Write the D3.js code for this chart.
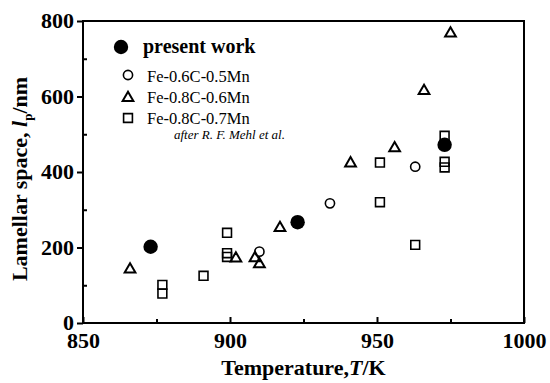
<!DOCTYPE html>
<html>
<head>
<meta charset="utf-8">
<script src="https://cdn.jsdelivr.net/npm/d3@7"></script>
<style>
  body { margin: 0; background: #fff; }
  svg { display: block; }
  text { font-family: "Liberation Serif", "Times New Roman", serif; fill: #000; }
</style>
</head>
<body>
<div id="chart"></div>
<script>
// temperatures (K) and lamellar spacing (nm)
var presentT = [873, 923, 973];
var presentL = [202, 267, 472];

var mn05T = [910, 934, 963];
var mn05L = [189, 317, 414];

var mn06T = [866, 902, 908.5, 910, 917, 941, 956, 966, 975];
var mn06L = [142, 171, 172, 156, 252, 423, 463, 615, 767];

var mn07T = [877, 877, 891, 899, 899, 899, 951, 951, 963, 973, 973, 973];
var mn07L = [101, 78, 125, 239, 185, 175, 425, 320, 207, 496, 427, 412];

var xTicks = [850, 900, 950, 1000];
var yTicks = [0, 200, 400, 600, 800];

var legendLabels = ["present work", "Fe-0.6C-0.5Mn", "Fe-0.8C-0.6Mn", "Fe-0.8C-0.7Mn"];

var margin = {top: 21, right: 26, bottom: 60, left: 83},
    width = 550 - margin.left - margin.right,
    height = 383 - margin.top - margin.bottom;

var svg = d3.select("#chart").append("svg")
    .attr("width", 550)
    .attr("height", 383);

var g = svg.append("g")
    .attr("transform", "translate(" + margin.left + "," + margin.top + ")");

var x = d3.scaleLinear().domain([850, 1000]).range([0, width]);
var y = d3.scaleLinear().domain([0, 800]).range([height, 0]);

// frame
g.append("rect")
    .attr("width", width).attr("height", height)
    .attr("fill", "none").attr("stroke", "#000").attr("stroke-width", 2);

// x axis: ticks inside
var xAxis = g.append("g")
    .attr("transform", "translate(0," + height + ")")
    .call(d3.axisBottom(x).tickValues(xTicks).tickFormat(d3.format("d")).tickSize(-6).tickPadding(9));
g.append("g")
    .attr("transform", "translate(0," + height + ")")
    .call(d3.axisBottom(x).tickValues([875, 925, 975]).tickFormat("").tickSize(-4));

// y axis: major outside, minor inside
var yAxis = g.append("g")
    .call(d3.axisLeft(y).tickValues(yTicks).tickSize(6).tickPadding(3));
g.append("g")
    .call(d3.axisLeft(y).tickValues([100, 300, 500, 700]).tickFormat("").tickSize(-4));

g.selectAll(".domain").remove();
g.selectAll(".tick line").attr("stroke", "#000").attr("stroke-width", 2);
g.selectAll(".tick text")
    .style("font-family", "'Liberation Serif', 'Times New Roman', serif")
    .style("font-weight", "bold")
    .style("font-size", "22px")
    .attr("fill", "#000");
xAxis.selectAll(".tick text").attr("dy", "0.71em");
yAxis.selectAll(".tick text").attr("dy", "0.3em");

// points
function pairs(ts, ls) {
  return ts.map(function(t, i) { return {t: t, l: ls[i]}; });
}

var tri = d3.symbol().type(d3.symbolTriangle).size(50);
var sq = d3.symbol().type(d3.symbolSquare).size(78);

g.selectAll(".sq").data(pairs(mn07T, mn07L)).enter().append("path")
    .attr("d", sq)
    .attr("transform", function(d) { return "translate(" + x(d.t) + "," + y(d.l) + ")"; })
    .attr("fill", "none").attr("stroke", "#000").attr("stroke-width", 1.6);

g.selectAll(".tri").data(pairs(mn06T, mn06L)).enter().append("path")
    .attr("d", tri)
    .attr("transform", function(d) { return "translate(" + x(d.t) + "," + y(d.l) + ")"; })
    .attr("fill", "none").attr("stroke", "#000").attr("stroke-width", 2);

g.selectAll(".oc").data(pairs(mn05T, mn05L)).enter().append("circle")
    .attr("cx", function(d) { return x(d.t); })
    .attr("cy", function(d) { return y(d.l); })
    .attr("r", 4.6)
    .attr("fill", "none").attr("stroke", "#000").attr("stroke-width", 1.6);

g.selectAll(".fc").data(pairs(presentT, presentL)).enter().append("circle")
    .attr("cx", function(d) { return x(d.t); })
    .attr("cy", function(d) { return y(d.l); })
    .attr("r", 7.2)
    .attr("fill", "#000");

// legend
svg.append("circle").attr("cx", 121).attr("cy", 47).attr("r", 7.2).attr("fill", "#000");
svg.append("text").attr("x", 143).attr("y", 53)
    .style("font-size", "20px").style("font-weight", "bold").text(legendLabels[0]);

svg.append("circle").attr("cx", 128).attr("cy", 75).attr("r", 4.6)
    .attr("fill", "none").attr("stroke", "#000").attr("stroke-width", 1.6);
svg.append("text").attr("x", 147).attr("y", 81.5)
    .style("font-size", "16.5px").text(legendLabels[1]);

svg.append("path").attr("d", tri).attr("transform", "translate(128,98)")
    .attr("fill", "none").attr("stroke", "#000").attr("stroke-width", 2);
svg.append("text").attr("x", 147).attr("y", 103)
    .style("font-size", "16.5px").text(legendLabels[2]);

svg.append("path").attr("d", sq).attr("transform", "translate(128,118)")
    .attr("fill", "none").attr("stroke", "#000").attr("stroke-width", 1.6);
svg.append("text").attr("x", 147).attr("y", 123.5)
    .style("font-size", "16.5px").text(legendLabels[3]);

svg.append("text").attr("x", 174).attr("y", 138.5)
    .style("font-size", "13px").style("font-style", "italic")
    .text("after R. F. Mehl et al.");

// axis titles
var xt = svg.append("text")
    .attr("x", margin.left + width / 2).attr("y", 375)
    .attr("text-anchor", "middle")
    .style("font-size", "22px").style("font-weight", "bold");
xt.append("tspan").text("Temperature,");
xt.append("tspan").style("font-style", "italic").text("T");
xt.append("tspan").text("/K");

var yt = svg.append("text")
    .attr("transform", "translate(27,179) rotate(-90)")
    .attr("text-anchor", "middle")
    .style("font-size", "22px").style("font-weight", "bold");
yt.append("tspan").text("Lamellar space, ");
yt.append("tspan").style("font-style", "italic").text("l");
yt.append("tspan").attr("dy", 5).style("font-size", "13px").text("p");
yt.append("tspan").attr("dy", -5).text("/nm");
</script>
</body>
</html>
